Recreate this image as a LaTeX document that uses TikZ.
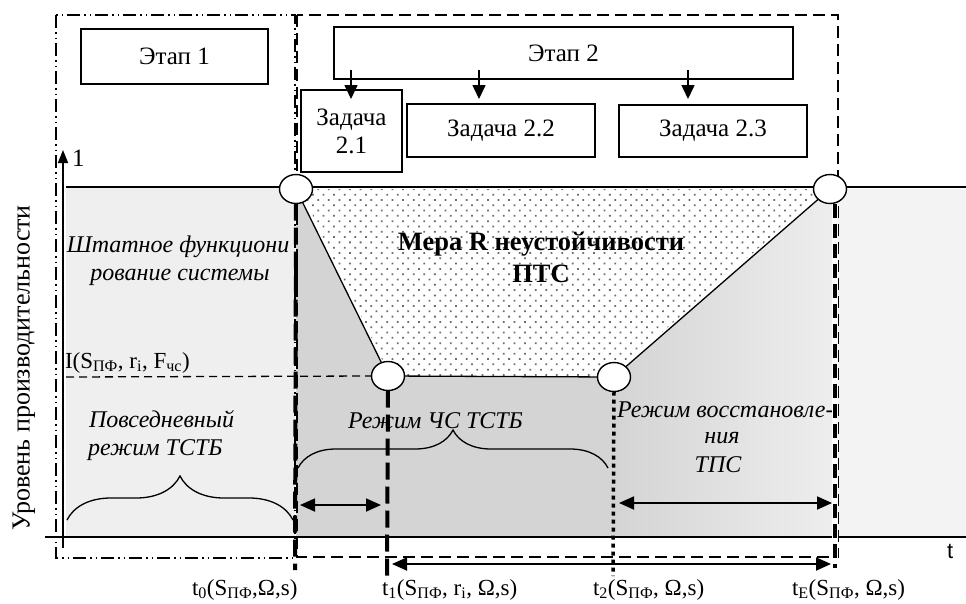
\documentclass[tikz,border=0pt]{standalone}
\usepackage{fontspec}
\setmainfont{Liberation Serif}
\newfontfamily\mySansFont{Liberation Sans}
\usetikzlibrary{arrows.meta,patterns.meta,decorations.pathreplacing,shapes.geometric}
\pgfdeclarelayer{bglayer}
\pgfdeclarelayer{midlayer}
\pgfsetlayers{bglayer,midlayer,main}
\newcommand\myBoxFont{\fontsize{25}{28}\selectfont}
\newcommand\myBoldFont{\fontsize{26.5}{30}\selectfont\bfseries}
\newcommand\myItFont{\fontsize{24}{28}\selectfont\itshape}
\newcommand\myLabFont{\fontsize{23}{26}\selectfont}
\definecolor{gA}{HTML}{EFEFEF}
\definecolor{gB}{HTML}{D4D4D4}
\definecolor{gC}{HTML}{EEEEEE}
\definecolor{gD}{HTML}{F3F3F3}
\definecolor{dotc}{HTML}{6E6E6E}
\begin{document}
\begin{tikzpicture}[x=1pt,y=-1pt,
  every node/.style={inner sep=0pt, outer sep=0pt},
  box/.style={draw, line width=1.2pt, fill=white, font=\myBoxFont, align=center},
  circ/.style={ellipse, draw, line width=1.4pt, fill=white, minimum width=33pt, minimum height=29pt},
  thinln/.style={line width=1.3pt},
  axisln/.style={line width=1.6pt},
  arrE/.style={-{Triangle[length=14pt,width=13pt]}, line width=1.6pt},
  darr/.style={{Triangle[length=15pt,width=13pt]}-{Triangle[length=15pt,width=13pt]}, line width=1.8pt},
  dashdotdot/.style={line width=1.2pt, dash pattern=on 13pt off 4pt on 1.5pt off 4pt on 1.5pt off 4pt},
  dashframe/.style={line width=1.4pt, dash pattern=on 12pt off 6pt},
  tline/.style={line width=4pt, dash pattern=on 17pt off 7pt},
  dotline/.style={line width=3.5pt, dash pattern=on 4pt off 4pt},
  bracestyle/.style={line width=1.3pt, decorate},
  itxt/.style={font=\myItFont},
  lab/.style={font=\myLabFont, anchor=base west}
]
\useasboundingbox (0,0) rectangle (966,603);

% circles (drawn on main layer, above fills and frames)
\node[circ] (c0) at (296,189) {};
\node[circ] (c1) at (388,376) {};
\node[circ] (c2) at (614,377) {};
\node[circ] (c3) at (830,189) {};

\begin{pgfonlayer}{bglayer}
\fill[gA] (66,188) rectangle (295,537);
\fill[gB] (c0.center) -- (c1.center) -- (c2.center) -- (614,537) -- (296,537) -- cycle;
\shade[left color=gB, right color=gC] (c2.center) -- (c3.center) -- (835,188) -- (835,537) -- (614,537) -- cycle;
\fill[gD] (835,189) rectangle (966,536);
\fill[white] (c0.center) -- (c3.center) -- (c2.center) -- (c1.center) -- cycle;
\fill[pattern={Dots[distance=7.5pt,angle=45,radius=1.25pt]}, pattern color=dotc]
  (300,189) -- (826,189) -- (612,376) -- (390,376) -- cycle;
\end{pgfonlayer}

\begin{pgfonlayer}{midlayer}
\draw[dashdotdot] (56,15) rectangle (295,558);
\draw[dashframe] (297,15) rectangle (838,557);
\coordinate (lvlS) at (66,187);
\coordinate (lvlE) at (966,187);
\draw[thinln] (lvlS) -- (lvlE);
\coordinate (Is) at (66,377);
\draw[line width=1.3pt, dash pattern=on 8pt off 5pt] (Is) -- (c1.west);
\end{pgfonlayer}

% axes
\coordinate (xaS) at (45,537);
\coordinate (xaE) at (966,537);
\draw[axisln] (xaS) -- (xaE);
\coordinate (yaS) at (63,548);
\coordinate (yaE) at (63,150);
\draw[axisln, -{Triangle[length=13pt,width=10pt]}] (yaS) -- (yaE);

% curve
\draw[thinln] (c0) -- (c1);
\draw[thinln] (c1) -- (c2);
\draw[thinln] (c2) -- (c3);

% texts
\node[font=\fontsize{26}{28}\selectfont, rotate=90] (ylab) at (24,368) {Уровень производительности};
\node[font=\myBoxFont, anchor=base west] (one) at (72,166) {1};
\node[font=\mySansFont\fontsize{22}{24}\selectfont, anchor=base west] (tlab) at (947,558) {t};

\node[itxt, anchor=base] (st1) at (178,252) {Штатное функциони};
\node[itxt, anchor=base] (st2) at (180,280) {рование системы};
\node[itxt, anchor=base west] (pv1) at (89,427) {Повседневный};
\node[itxt, anchor=base west] (pv2) at (88,455) {режим ТСТБ};
\node[itxt, anchor=base west] (chs) at (348,428) {Режим ЧС ТСТБ};
\node[itxt, anchor=base west] (rv1) at (617,417) {Режим восстановле-};
\node[itxt, anchor=base] (rv2) at (722,443) {ния};
\node[itxt, anchor=base] (rv3) at (718,472) {ТПС};
\node[font=\myBoldFont, anchor=base] (mr1) at (541,250) {Мера R неустойчивости};
\node[font=\myBoldFont, anchor=base] (mr2) at (541,282) {ПТС};

\node[lab] (Ilab) at (65,368) {I(S\textsubscript{ПФ}, r\textsubscript{i}, F\textsubscript{чс})};
\node[lab] (t0l) at (192,595) {t\textsubscript{0}(S\textsubscript{ПФ},Ω,s)};
\node[lab] (t1l) at (382,595) {t\textsubscript{1}(S\textsubscript{ПФ}, r\textsubscript{i}, Ω,s)};
\node[lab] (t2l) at (593,595) {t\textsubscript{2}(S\textsubscript{ПФ}, Ω,s)};
\node[lab] (tEl) at (792,595) {t\textsubscript{E}(S\textsubscript{ПФ}, Ω,s)};

% braces
\coordinate (b1s) at (67,520);
\coordinate (b1e) at (293,520);
\draw[bracestyle, decoration={brace, amplitude=44pt}] (b1s) -- (b1e);
\coordinate (b2s) at (298,468);
\coordinate (b2e) at (608,468);
\draw[bracestyle, decoration={brace, amplitude=38pt}] (b2s) -- (b2e);

% vertical time lines
\coordinate (t0b) at (295,570);
\coordinate (t1b) at (387,580);
\coordinate (t2b) at (613,576);
\coordinate (tEb) at (835,568);
\draw[tline] (c0.south) -- (t0b);
\draw[tline] (c1.south) -- (t1b);
\draw[dotline] (c2.south) -- (t2b);
\draw[white, line width=6pt] (c3.south -| tEb) -- (tEb);
\draw[tline, dash pattern=on 14pt off 6pt] (c3.south -| tEb) -- (tEb);

% double arrows
\coordinate (a1s) at (300,505);
\coordinate (a1e) at (381,505);
\draw[darr] (a1s) -- (a1e);
\coordinate (a2s) at (392,564);
\coordinate (a2e) at (831,564);
\draw[darr] (a2s) -- (a2e);
\coordinate (a3s) at (619,503);
\coordinate (a3e) at (832,503);
\draw[darr] (a3s) -- (a3e);

% boxes
\node[box, minimum width=187pt, minimum height=55pt] (e1) at (174.5,56.5) {Этап 1};
\node[box, minimum width=459pt, minimum height=52pt] (e2) at (563.5,53) {Этап 2};
\node[box, minimum width=101pt, minimum height=82pt] (z21) at (351.5,131) {Задача\\2.1};
\node[box, minimum width=188pt, minimum height=53pt] (z22) at (501,130.5) {Задача 2.2};
\node[box, minimum width=188pt, minimum height=52pt] (z23) at (713,131) {Задача 2.3};

% arrows from Этап 2
\coordinate (p1s) at (351,70);
\coordinate (p1e) at (351,99);
\coordinate (p2s) at (479,70);
\coordinate (p2e) at (479,99);
\coordinate (p3s) at (688,70);
\coordinate (p3e) at (688,99);
\draw[arrE] (p1s) -- (p1e);
\draw[arrE] (p2s) -- (p2e);
\draw[arrE] (p3s) -- (p3e);
\end{tikzpicture}
\end{document}
